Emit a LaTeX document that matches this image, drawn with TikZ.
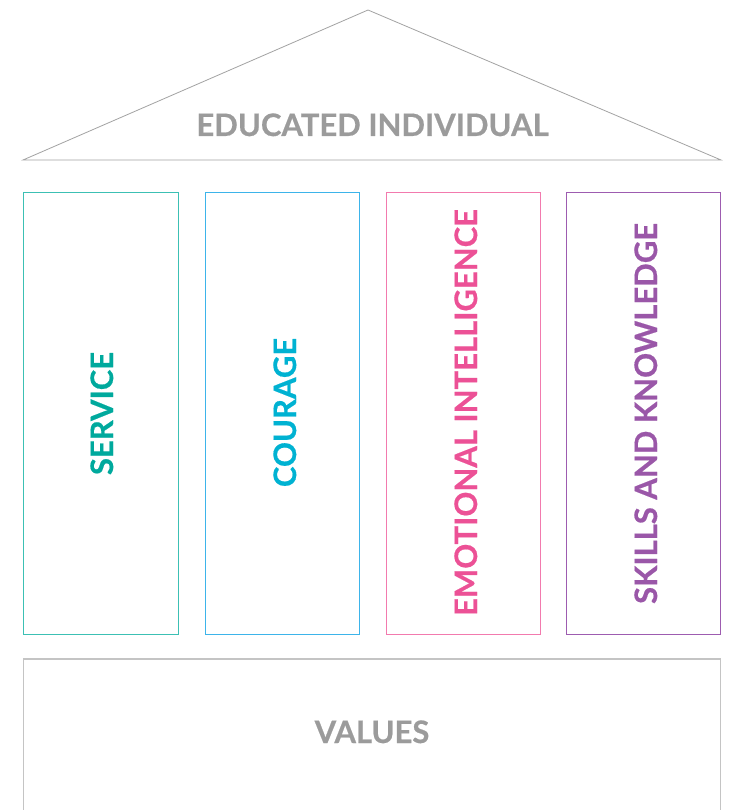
\documentclass[tikz,border=0pt]{standalone}
\usepackage{fontspec}
\setmainfont{Lato}[BoldFeatures={FakeBold=0.5}]
\definecolor{txtgray}{HTML}{9B9B9B}
\definecolor{roofgray}{HTML}{A3A3A3}
\definecolor{basegray}{HTML}{C4C4C4}
\definecolor{cservice}{HTML}{00A99D}
\definecolor{bservice}{HTML}{3CC0B4}
\definecolor{ccourage}{HTML}{00B2D2}
\definecolor{bcourage}{HTML}{3DB4EA}
\definecolor{cemo}{HTML}{EC5196}
\definecolor{bemo}{HTML}{F27AAE}
\definecolor{cskill}{HTML}{9A57A8}
\definecolor{bskill}{HTML}{9D5CB0}
\tikzset{
  x=1pt, y=-1pt,
  pillar/.style={draw=#1, line width=1pt},
  ptext/.style={text=#1, font=\bfseries\fontsize{31}{31}\selectfont, rotate=90, anchor=base, inner sep=0pt},
  htext/.style={text=txtgray, font=\bfseries\fontsize{31}{31}\selectfont, anchor=base, inner sep=0pt}
}
\begin{document}
\begin{tikzpicture}
\useasboundingbox (0,0) rectangle (729,810);
\fill[white] (0,0) rectangle (729,810);
% roof
\coordinate (apex) at (368,10);
\coordinate (rl) at (23,160);
\coordinate (rr) at (721,160);
\draw[roofgray, line width=0.8pt, line join=miter] (rl) -- (apex) -- (rr) -- cycle;
\node[htext] (edu) at (372.5,136) {EDUCATED INDIVIDUAL};
% pillars
\draw[pillar=bservice] (23.5,192.5) rectangle (178,634);
\draw[pillar=bcourage] (205,192.5) rectangle (359,634);
\draw[pillar=bemo] (386,192.5) rectangle (540,634);
\draw[pillar=bskill] (566,192.5) rectangle (720.5,634);
\node[ptext=cservice] (srv) at (113,413.5) {SERVICE};
\node[ptext=ccourage] (cou) at (296,412.5) {COURAGE};
\node[ptext=cemo] (emo) at (477,412.5) {EMOTIONAL INTELLIGENCE};
\node[ptext=cskill] (skl) at (657,413.5) {SKILLS AND KNOWLEDGE};
% base
\draw[basegray, line width=1.2pt] (23.5,815) -- (23.5,659) -- (720.5,659) -- (720.5,815);
\node[htext] (val) at (372,743) {VALUES};
\end{tikzpicture}
\end{document}
